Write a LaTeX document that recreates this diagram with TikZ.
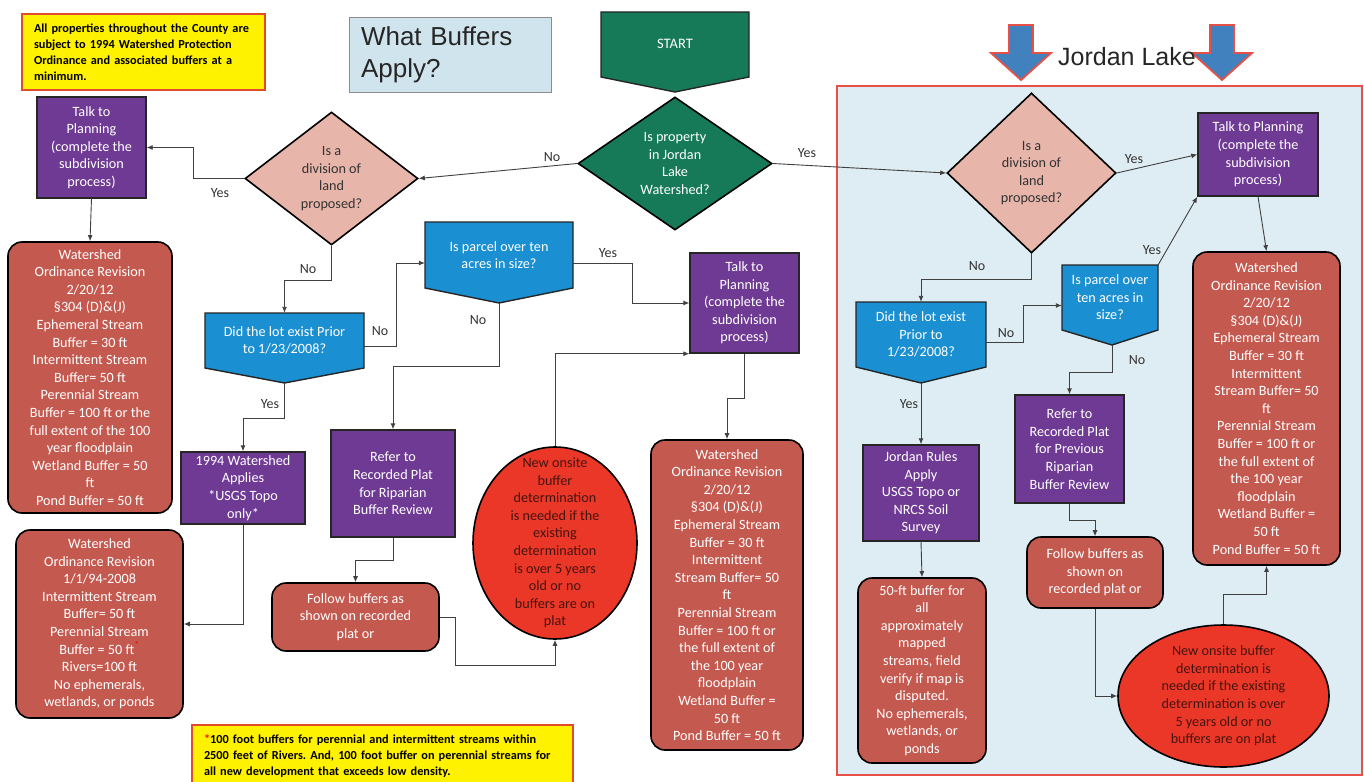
\documentclass[tikz,border=0pt]{standalone}
\usepackage{fontspec}
\setmainfont{Carlito}
\newfontfamily\arialfont{Liberation Sans}
\usetikzlibrary{shapes.geometric,arrows.meta,calc}
\definecolor{boxpurple}{RGB}{111,58,148}
\definecolor{boxred}{RGB}{196,89,79}
\definecolor{pinkd}{RGB}{231,181,170}
\definecolor{boxblue}{RGB}{26,143,210}
\definecolor{startgreen}{RGB}{22,122,88}
\definecolor{ovalred}{RGB}{235,55,40}
\definecolor{ovaltext}{RGB}{70,20,15}
\definecolor{noteborder}{RGB}{225,75,45}
\definecolor{titleblue}{RGB}{208,228,238}
\definecolor{regionblue}{RGB}{222,236,243}
\definecolor{regionred}{RGB}{230,80,70}
\definecolor{arrowblue}{RGB}{65,130,190}
\frenchspacing

\begin{document}
\begin{tikzpicture}[x=1pt,y=-1pt,
  txt/.style={align=center,text=white,font=\fontsize{14.2}{17.6}\selectfont,inner sep=0pt},
  purplebox/.style={txt,rectangle,draw=black!85,line width=1.4pt,fill=boxpurple},
  redbox/.style={txt,rectangle,rounded corners=14pt,draw=black,line width=1.6pt,fill=boxred},
  qshape/.style={fill=boxblue,draw=black!85,line width=1.4pt},
  decision/.style={txt,diamond,draw=black,line width=1.6pt,inner sep=0pt},
  oval/.style={ellipse,draw=black,line width=1.6pt,fill=ovalred,inner sep=0pt},
  ovaltxt/.style={txt,text=ovaltext},
  conn/.style={draw=black!75,line width=0.9pt,-{Latex[length=6pt,width=5pt]}},
  lbl/.style={font=\fontsize{14}{16}\selectfont,text=black!80,inner sep=1pt},
  note/.style={rectangle,draw=noteborder,line width=2pt,fill=yellow,align=left,
    font=\bfseries\fontsize{12.3}{16}\selectfont,inner sep=0pt}]
\useasboundingbox (0,0) rectangle (1364,781);
\fill[white] (0,0) rectangle (1364,781);

% Jordan Lake area
\filldraw[fill=regionblue,draw=regionred,line width=1.6pt] (837,86) rectangle (1362,775);
\foreach \ax in {1021,1222}
  \filldraw[fill=arrowblue,draw=regionred,line width=1.8pt]
    (\ax-12,25) -- (\ax+12,25) -- (\ax+12,53) -- (\ax+30,53) -- (\ax,80) -- (\ax-30,53) -- (\ax-12,53) -- cycle;
\node[font=\arialfont\fontsize{25}{30}\selectfont,text=black!85] (jlake) at (1127,57) {Jordan Lake};

% notes and title
\node[note,minimum width=243pt,minimum height=76pt,text width=219pt] (notetop) at (143.5,52)
  {All properties throughout the County are\\subject to 1994 Watershed Protection\\Ordinance and associated buffers at a\\minimum.};
\node[note,minimum width=381pt,minimum height=62pt,text width=357pt] (notebot) at (382.5,756)
  {\textcolor{red}{*}100 foot buffers for perennial and intermittent streams within\\2500 feet of Rivers. And, 100 foot buffer on perennial streams for\\all new development that exceeds low density.};
\node[rectangle,fill=titleblue,draw=black!45,line width=1pt,minimum width=202pt,minimum height=75pt,
  text width=178pt,align=left,inner sep=0pt,font=\arialfont\fontsize{26}{32}\selectfont,text=black!85]
  (title) at (450,55) {What Buffers\\Apply?};

% start and first question
\filldraw[fill=startgreen,draw=black!85,line width=1.4pt] (601,12) -- (749,12) -- (749,77) -- (675,92) -- (601,77) -- cycle;
\node[txt,font=\fontsize{14.5}{16}\selectfont] (start) at (675,44) {START};
\node[decision,fill=startgreen,aspect=1.4,minimum width=194pt,minimum height=133pt] (mainq) at (675,163.5)
  {Is property\\in Jordan\\Lake\\Watershed?};

% left part
\node[decision,fill=pinkd,text=black!80,aspect=1.4,minimum width=173pt,minimum height=133pt] (divL) at (331.5,178.5)
  {Is a\\division of\\land\\proposed?};
\node[purplebox,minimum width=109pt,minimum height=101pt] (talkL) at (91.5,147.5)
  {Talk to\\Planning\\(complete the\\subdivision\\process)};
\node[redbox,minimum width=164pt,minimum height=271pt] (wsL) at (90,377.5)
  {Watershed\\Ordinance Revision\\2/20/12\\§304 (D)\&(J)\\Ephemeral Stream\\Buffer = 30 ft\\Intermittent Stream\\Buffer= 50 ft\\Perennial Stream\\Buffer = 100 ft or the\\full extent of the 100\\year floodplain\\Wetland Buffer = 50\\ft\\Pond Buffer = 50 ft};
\filldraw[qshape] (205,313) -- (364,313) -- (364,368) -- (284.5,383) coordinate (lotLtip) -- (205,368) -- cycle;
\node[txt,minimum width=159pt,minimum height=55pt] (lotL) at (284.5,340.5) {Did the lot exist Prior\\to 1/23/2008?};
\filldraw[qshape] (425,222) -- (573,222) -- (573,288) -- (499,303) coordinate (parcelLtip) -- (425,288) -- cycle;
\node[txt,minimum width=148pt,minimum height=66pt] (parcelL) at (499,255) {Is parcel over ten\\acres in size?};
\node[purplebox,minimum width=109pt,minimum height=100pt] (talkM) at (744.5,303)
  {Talk to\\Planning\\(complete the\\subdivision\\process)};
\node[purplebox,minimum width=124pt,minimum height=72pt] (y1994) at (243,488)
  {1994 Watershed\\Applies\\*USGS Topo\\only*};
\node[purplebox,minimum width=124pt,minimum height=107pt] (referL) at (393,483.5)
  {Refer to\\Recorded Plat\\for Riparian\\Buffer Review};
\node[redbox,minimum width=167pt,minimum height=188pt] (ws94) at (99.5,624)
  {Watershed\\Ordinance Revision\\1/1/94-2008\\Intermittent Stream\\Buffer= 50 ft\\Perennial Stream\\Buffer = 50 ft\textsuperscript{\textcolor{red}{*}}\\Rivers=100 ft\\No ephemerals,\\wetlands, or ponds};
\node[redbox,minimum width=167pt,minimum height=68pt] (followL) at (355.5,617)
  {Follow buffers as\\shown on recorded\\plat or};
\node[oval,minimum width=164pt,minimum height=192pt] (newL) at (555,543) {};
\node[ovaltxt] (newLtxt) at (newL.center)
  {New onsite\\buffer\\determination\\is needed if the\\existing\\determination\\is over 5 years\\old or no\\buffers are on\\plat};
\node[redbox,minimum width=152pt,minimum height=310pt] (wsM) at (727,595)
  {Watershed\\Ordinance Revision\\2/20/12\\§304 (D)\&(J)\\Ephemeral Stream\\Buffer = 30 ft\\Intermittent\\Stream Buffer= 50\\ft\\Perennial Stream\\Buffer = 100 ft or\\the full extent of\\the 100 year\\floodplain\\Wetland Buffer =\\50 ft\\Pond Buffer = 50 ft};

% Jordan Lake part
\node[decision,fill=pinkd,text=black!80,aspect=1,minimum width=169pt,minimum height=160pt] (divR) at (1031.5,173)
  {Is a\\division of\\land\\proposed?};
\node[purplebox,minimum width=120pt,minimum height=83pt] (talkR) at (1258,154.5)
  {Talk to Planning\\(complete the\\subdivision\\process)};
\node[redbox,minimum width=147pt,minimum height=313pt] (wsR) at (1266.5,408.5)
  {Watershed\\Ordinance Revision\\2/20/12\\§304 (D)\&(J)\\Ephemeral Stream\\Buffer = 30 ft\\Intermittent\\Stream Buffer= 50\\ft\\Perennial Stream\\Buffer = 100 ft or\\the full extent of\\the 100 year\\floodplain\\Wetland Buffer =\\50 ft\\Pond Buffer = 50 ft};
\filldraw[qshape] (856,302) -- (986,302) -- (986,367) -- (921,383) coordinate (lotRtip) -- (856,367) -- cycle;
\node[txt,minimum width=130pt,minimum height=65pt] (lotR) at (921,334.5) {Did the lot exist\\Prior to\\1/23/2008?};
\filldraw[qshape] (1062,265) -- (1158,265) -- (1158,330) -- (1112,345) coordinate (parcelRtip) -- (1062,330) -- cycle;
\node[txt,minimum width=96pt,minimum height=65pt] (parcelR) at (1110,297.5) {Is parcel over\\ten acres in\\size?};
\node[purplebox,minimum width=116pt,minimum height=96pt] (jordanR) at (921,493)
  {Jordan Rules\\Apply\\USGS Topo or\\NRCS Soil\\Survey};
\node[purplebox,minimum width=109pt,minimum height=108pt] (referR) at (1069.5,449)
  {Refer to\\Recorded Plat\\for Previous\\Riparian\\Buffer Review};
\node[redbox,minimum width=136pt,minimum height=71pt] (followR) at (1095,572.5)
  {Follow buffers as\\shown on\\recorded plat or};
\node[redbox,minimum width=128pt,minimum height=185pt] (ws50) at (922,670.5)
  {50-ft buffer for\\all\\approximately\\mapped\\streams, field\\verify if map is\\disputed.\\No ephemerals,\\wetlands, or\\ponds};
\node[oval,minimum width=211pt,minimum height=142pt] (newR) at (1223.5,696) {};
\node[ovaltxt] (newRtxt) at (newR.center)
  {New onsite buffer\\determination is\\needed if the existing\\determination is over\\5 years old or no\\buffers are on plat};

% connectors, left part
\draw[conn] (mainq.west) -- (divL.east);
\draw[conn] (divL.west) -- (193,178.5) |- (talkL.east);
\draw[conn] (talkL.south) -- (wsL.north);
\draw[conn] (divL.south) -- ++(0,35) -| (lotL.north);
\draw[conn] ($(lotL.east)+(0,6)$) -- ++(32,0) |- ($(parcelL.west)+(0,8)$);
\draw[conn] (lotLtip) -- ++(0,35) -| (y1994.north);
\draw[conn] ($(parcelL.east)+(0,8)$) -- (632,263) |- (talkM.west);
\draw[conn] (parcelLtip) -- ++(0,63) -| (referL.north);
\draw[conn] (newL.north) |- (talkM.south west);
\draw[conn] (talkM.south) -- ++(0,45) -| (wsM.north);
\draw[conn] (y1994.south) |- (ws94.east);
\draw[conn] (referL.south) -- ++(0,23) -| (followL.north);
\draw[conn] (followL.east) -- ++(16,0) -- ++(0,48) -| (newL.south);

% connectors, Jordan Lake part
\draw[conn] (mainq.east) -- (divR.west);
\draw[conn] (divR.east) -- (talkR.west);
\draw[conn] (divR.south) -- ++(0,26) -| (lotR.north);
\draw[conn] ($(lotR.east)+(0,8)$) -- ++(37,0) |- ($(parcelR.west)+(0,8)$);
\draw[conn] (parcelR.north east) -- (talkR.south west);
\draw[conn] (talkR.south) -- (wsR.north);
\draw[conn] (parcelRtip) -- ++(0,27) -| (referR.north);
\draw[conn] (lotRtip) -- (jordanR.north);
\draw[conn] (jordanR.south) -- (ws50.north);
\draw[conn] (referR.south) -- ++(0,17) -| (followR.north);
\draw[conn] (followR.south) |- (newR.west);
\draw[conn] (newR.north) -- ++(0,-30) -| (wsR.south);

% labels
\node[lbl] (l1) at (552,157) {No};
\node[lbl] (l2) at (807,153) {Yes};
\node[lbl] (l3) at (220,193) {Yes};
\node[lbl] (l4) at (308,269) {No};
\node[lbl] (l5) at (380,331) {No};
\node[lbl] (l6) at (270,404) {Yes};
\node[lbl] (l7) at (608,253) {Yes};
\node[lbl] (l8) at (478,320) {No};
\node[lbl] (r1) at (1134,159) {Yes};
\node[lbl] (r2) at (977,266) {No};
\node[lbl] (r3) at (1006,333) {No};
\node[lbl] (r4) at (1152,250) {Yes};
\node[lbl] (r5) at (1137,360) {No};
\node[lbl] (r6) at (909,404) {Yes};
\end{tikzpicture}
\end{document}
